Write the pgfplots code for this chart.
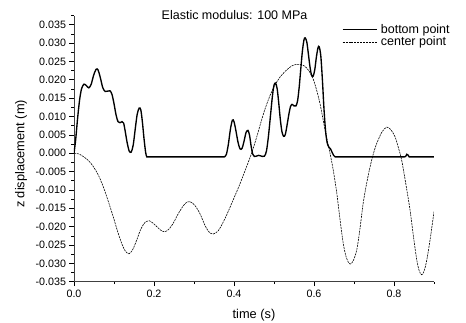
\documentclass[border=0pt]{standalone}
\usepackage{fontspec}
\setmainfont{Liberation Sans}
\usepackage{pgfplots}
\pgfplotsset{compat=1.18}
\begin{document}
\begin{tikzpicture}
\begin{axis}[
  scale only axis, width=360pt, height=266.2pt,
  xmin=0, xmax=0.9, ymin=-0.035, ymax=0.0375,
  axis x line=bottom, axis y line=left,
  axis line style={-, line width=0.8pt, black!75},
  xtick={0,0.2,0.4,0.6,0.8},
  minor xtick={0.1,0.3,0.5,0.7,0.9},
  ytick={-0.035,-0.030,-0.025,-0.020,-0.015,-0.010,-0.005,0,0.005,0.010,0.015,0.020,0.025,0.030,0.035},
  minor ytick={-0.0325,-0.0275,-0.0225,-0.0175,-0.0125,-0.0075,-0.0025,0.0025,0.0075,0.0125,0.0175,0.0225,0.0275,0.0325,0.0375},
  tick align=outside, major tick length=4.5pt, minor tick length=2.5pt,
  every tick/.style={black, line width=0.6pt},
  scaled y ticks=false, scaled x ticks=false,
  /pgf/number format/assume math mode=true,
  xticklabel style={/pgf/number format/.cd, fixed, fixed zerofill, precision=1},
  yticklabel style={/pgf/number format/.cd, fixed, fixed zerofill, precision=3},
  tick label style={font=\fontsize{10.7}{12}\selectfont},
  xlabel={time (s)}, ylabel={z displacement (m)},
  label style={font=\fontsize{12.8}{15}\selectfont},
  xlabel style={at={(0.5,0)}, anchor=center, yshift=-33pt},
  ylabel style={at={(-0.147,0.48)}, anchor=center, rotate=0},
  title={Elastic modulus: 100 MPa},
  title style={at={(0.446,1)}, anchor=base, yshift=-10pt, font=\fontsize{12.5}{15}\selectfont},
  legend cell align=left,
  legend image code/.code={\draw[#1] (0pt,0pt) -- (34pt,0pt);},
  legend style={at={(0.744,0.972)}, anchor=north west, draw=none, fill=none,
    inner sep=0pt, row sep=0pt, font=\fontsize{12.5}{15}\selectfont,
    nodes={inner sep=1pt}, /tikz/column sep=2.5pt},
]
\addplot[black, line width=1.35pt, smooth] coordinates {
(0,0) (0.004,0.0035) (0.009,0.0095) (0.014,0.0145) (0.019,0.0176) (0.025,0.0188)
(0.031,0.0184) (0.037,0.0178) (0.043,0.0188) (0.049,0.0212) (0.055,0.0228) (0.060,0.0227)
(0.066,0.0205) (0.072,0.0178) (0.078,0.0168) (0.084,0.0169) (0.090,0.0170) (0.095,0.0160)
(0.100,0.0135) (0.105,0.0105) (0.110,0.0086) (0.115,0.0083) (0.120,0.0086) (0.124,0.0082)
(0.128,0.0060) (0.133,0.0028) (0.138,0.0006) (0.143,0.0003) (0.148,0.0022) (0.153,0.0065)
(0.158,0.0106) (0.163,0.0123) (0.167,0.0118) (0.171,0.0085) (0.175,0.0040) (0.179,0.0003)
(0.182,-0.0010) (0.187,-0.0010) (0.193,-0.0010) (0.200,-0.0010) (0.210,-0.0010) (0.225,-0.0010)
(0.245,-0.0010) (0.270,-0.0010) (0.300,-0.0010) (0.330,-0.0010) (0.350,-0.0010) (0.360,-0.0010)
(0.367,-0.0010) (0.372,-0.0010) (0.376,-0.0010) (0.381,-0.0003) (0.386,0.0025) (0.391,0.0065)
(0.396,0.0090) (0.400,0.0086) (0.405,0.0060) (0.410,0.0030) (0.415,0.0012) (0.420,0.0013)
(0.425,0.0032) (0.430,0.0056) (0.435,0.0062) (0.439,0.0048) (0.443,0.0018) (0.447,-0.0003)
(0.451,-0.0009) (0.456,-0.0008) (0.461,-0.0006) (0.466,-0.0007) (0.471,-0.0009) (0.476,-0.0008)
(0.481,0.0005) (0.486,0.0045) (0.491,0.0100) (0.496,0.0155) (0.500,0.0185) (0.504,0.0191)
(0.508,0.0175) (0.512,0.0135) (0.516,0.0090) (0.520,0.0058) (0.524,0.0046) (0.528,0.0050)
(0.532,0.0072) (0.537,0.0105) (0.541,0.0126) (0.545,0.0133) (0.550,0.0129) (0.555,0.0129)
(0.559,0.0143) (0.563,0.0180) (0.567,0.0230) (0.571,0.0278) (0.575,0.0309) (0.578,0.0314)
(0.582,0.0303) (0.586,0.0270) (0.590,0.0235) (0.594,0.0212) (0.598,0.0210) (0.602,0.0228)
(0.606,0.0262) (0.610,0.0287) (0.613,0.0290) (0.617,0.0265) (0.621,0.0200) (0.625,0.0120)
(0.629,0.0060) (0.633,0.0028) (0.637,0.0017) (0.641,0.0012) (0.645,0.0003) (0.649,-0.0006)
(0.653,-0.0010) (0.659,-0.0010) (0.667,-0.0010) (0.680,-0.0010) (0.700,-0.0010) (0.730,-0.0010)
(0.760,-0.0010) (0.790,-0.0010) (0.810,-0.0010) (0.820,-0.0010) (0.826,-0.0010) (0.829,-0.0009)
(0.832,-0.0003) (0.835,-0.0005) (0.838,-0.0010) (0.842,-0.0010) (0.848,-0.0010) (0.857,-0.0010)
(0.870,-0.0010) (0.885,-0.0010) (0.900,-0.0010)
};
\addlegendentry{bottom point}
\addplot[black, line width=0.6pt, dash pattern=on 2pt off 0.9pt, smooth] coordinates {
(0,0) (0.012,-0.0002) (0.023,-0.0009) (0.036,-0.0020) (0.048,-0.0036) (0.061,-0.0060)
(0.073,-0.0091) (0.086,-0.0132) (0.098,-0.0173) (0.109,-0.0213) (0.119,-0.0245) (0.128,-0.0266)
(0.1375,-0.0274) (0.147,-0.0262) (0.157,-0.0236) (0.165,-0.0212) (0.173,-0.0195) (0.180,-0.0186)
(0.188,-0.0184) (0.197,-0.0190) (0.207,-0.0200) (0.217,-0.0210) (0.2275,-0.0214) (0.238,-0.0206)
(0.248,-0.0191) (0.259,-0.0168) (0.269,-0.0150) (0.279,-0.0136) (0.290,-0.0132) (0.302,-0.0142)
(0.315,-0.0165) (0.328,-0.0198) (0.338,-0.0215) (0.348,-0.0220) (0.360,-0.0212) (0.372,-0.0190)
(0.385,-0.0160) (0.398,-0.0127) (0.4125,-0.0090) (0.430,-0.0041) (0.444,0.0000) (0.457,0.0045)
(0.467,0.0083) (0.4775,0.0120) (0.490,0.0157) (0.5025,0.0186) (0.517,0.0210) (0.532,0.0227)
(0.545,0.0238) (0.557,0.0242) (0.568,0.0241) (0.578,0.0236) (0.588,0.0223) (0.598,0.0202)
(0.607,0.0170) (0.615,0.0135) (0.623,0.0090) (0.631,0.0045) (0.640,0.0000) (0.648,-0.0045)
(0.657,-0.0109) (0.665,-0.0180) (0.673,-0.0245) (0.681,-0.0285) (0.690,-0.0302) (0.698,-0.0293)
(0.707,-0.0263) (0.715,-0.0205) (0.723,-0.0136) (0.732,-0.0080) (0.740,-0.0038) (0.748,-0.0003)
(0.757,0.0027) (0.770,0.0058) (0.782,0.0071) (0.792,0.0064) (0.8025,0.0045) (0.811,0.0015)
(0.819,-0.0018) (0.829,-0.0080) (0.840,-0.0154) (0.849,-0.0230) (0.857,-0.0291) (0.863,-0.0320)
(0.869,-0.0331) (0.875,-0.0322) (0.882,-0.0291) (0.891,-0.0230) (0.900,-0.0159)
};
\addlegendentry{center point}
\end{axis}
\pgfresetboundingbox
\path (-74pt,-40.3pt) rectangle (392pt,281.7pt);
\end{tikzpicture}
\end{document}
